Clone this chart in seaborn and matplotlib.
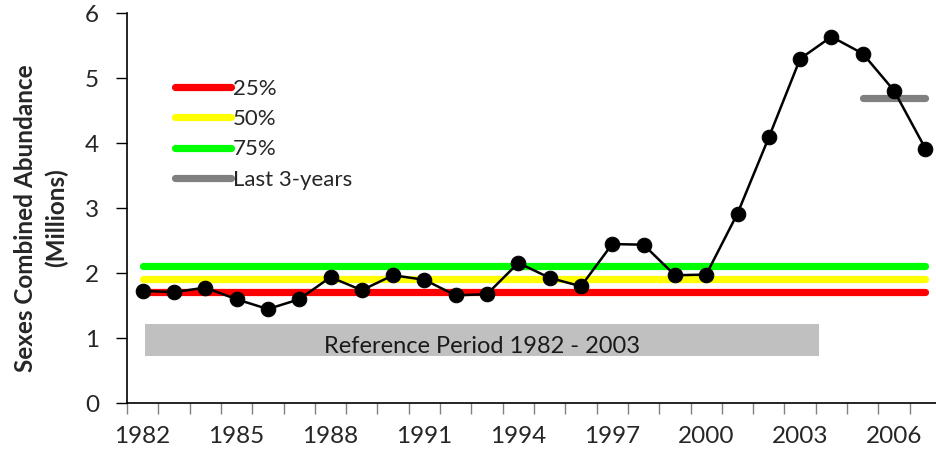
import matplotlib
matplotlib.use("Agg")
import matplotlib.pyplot as plt
from matplotlib.patches import Rectangle
from matplotlib.ticker import FixedLocator, NullFormatter
import numpy as np
import pandas as pd
import seaborn as sns

# abundance per year (millions)
years = list(range(1982, 2008))
abundance = [1.73, 1.71, 1.78, 1.60, 1.45, 1.60, 1.94, 1.74, 1.97, 1.90,
             1.66, 1.68, 2.16, 1.93, 1.80, 2.45, 2.44, 1.97, 1.98, 2.92,
             4.09, 5.30, 5.64, 5.38, 4.81, 3.92]

# reference levels
levels = ["25%", "50%", "75%"]
level_values = [1.72, 1.91, 2.11]
level_colors = ["#FF0000", "#FFFF00", "#00FF00"]
last3_value = 4.70
last3_years = [2005, 2007]
ref_period = (1982, 2003)
tick_years = list(range(1982, 2008, 3))

sns.set_style("white")
plt.rcParams["font.family"] = ["Lato", "DejaVu Sans"]

df = pd.DataFrame({"pos": np.arange(len(years)), "year": years, "abundance": abundance})

fig = plt.figure(figsize=(9.36, 4.51), dpi=100)
ax = fig.add_axes([127 / 936, 47.7 / 451, 814 / 936, 390 / 451])

x_first, x_last = 0, len(years) - 1

# reference period box
r0 = years.index(ref_period[0]) + 0.08
r1 = years.index(ref_period[1]) + 0.6
ax.add_patch(Rectangle((r0, 0.73), r1 - r0, 0.485, facecolor="#C0C0C0",
                       edgecolor="none", zorder=1))
ax.text((r0 + r1) / 2, 0.77, f"Reference Period {ref_period[0]} - {ref_period[1]}",
        ha="center", va="baseline", fontsize=17, color="#1a1a1a", zorder=2)

# percentile lines
for lab, val, col in zip(levels, level_values, level_colors):
    ax.plot([x_first, x_last], [val, val], color=col, lw=5.2,
            solid_capstyle="round", label=lab, zorder=2)

# last 3-years mean
l0 = years.index(last3_years[0])
l1 = years.index(last3_years[1])
ax.plot([l0, l1], [last3_value, last3_value], color="#808080", lw=5.2,
        solid_capstyle="round", label="Last 3-years", zorder=2)

sns.lineplot(data=df, x="pos", y="abundance", color="black", lw=1.8,
             marker="o", markersize=10.5, markeredgecolor="black",
             ax=ax, zorder=3)

ax.set_xlim(-0.5, len(years) - 0.5)
ax.set_ylim(0, 6)
ax.set_yticks(range(0, 7))
ax.set_yticklabels([str(v) for v in range(0, 7)])

# ticks on category boundaries, labels at category centres
ax.xaxis.set_major_locator(FixedLocator(np.arange(-0.5, len(years), 1.0)))
ax.xaxis.set_major_formatter(NullFormatter())
ax.xaxis.set_minor_locator(FixedLocator([years.index(y) for y in tick_years]))
ax.set_xticklabels([str(y) for y in tick_years], minor=True)
ax.tick_params(axis="x", which="major", direction="out", length=8,
               width=1, color="#808080", bottom=True)
ax.tick_params(axis="x", which="minor", length=0, pad=16, labelsize=17.5)
ax.tick_params(axis="y", direction="out", length=8, width=1, color="black",
               left=True, pad=12, labelsize=17.5)

for side in ["top", "right"]:
    ax.spines[side].set_visible(False)
for side in ["left", "bottom"]:
    ax.spines[side].set_color("black")
    ax.spines[side].set_linewidth(1.2)

ax.set_xlabel("")
ax.set_ylabel("Sexes Combined Abundance\n(Millions)", fontsize=17.5,
              fontweight="bold", linespacing=1.4)
ax.yaxis.set_label_coords(-0.072, 0.475)

handles, labels = ax.get_legend_handles_labels()
keep = [i for i, l in enumerate(labels) if l in levels + ["Last 3-years"]]
ax.legend([handles[i] for i in keep], [labels[i] for i in keep],
          loc="upper left", bbox_to_anchor=(175 / 936, 1 - 79 / 451),
          bbox_transform=fig.transFigure, frameon=False, fontsize=16,
          handlelength=2.5, handletextpad=0.12, labelspacing=0.46,
          borderpad=0, borderaxespad=0)

fig.savefig("out.png", dpi=100)
